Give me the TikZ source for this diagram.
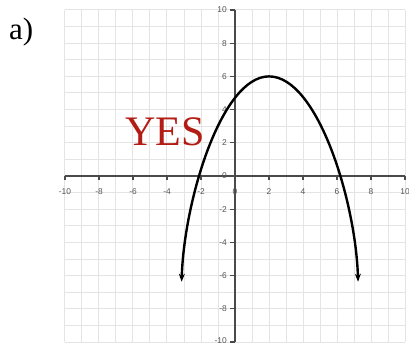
\documentclass[tikz,border=0pt]{standalone}
\usepackage{fontspec}
\setmainfont{Liberation Serif}
\newfontfamily\labfont{Liberation Sans}
\usetikzlibrary{arrows.meta}
\definecolor{gridc}{HTML}{E4E4E4}
\definecolor{axisc}{HTML}{4A4A4A}
\definecolor{labc}{HTML}{555555}
\definecolor{yesred}{RGB}{178,28,20}
\tikzset{
  gridline/.style={gridc, line width=1pt},
  axisline/.style={axisc, line width=1.1pt},
  ticklab/.style={labc, font=\labfont\fontsize{8.4}{10}\selectfont, inner sep=0pt},
  curve/.style={black, line width=2.4pt, {Stealth[length=8pt,width=6pt]}-{Stealth[length=8pt,width=6pt]}}
}
\begin{document}
\begin{tikzpicture}[x=17pt,y=16.6pt]
\useasboundingbox[fill=white] (-235pt,-169pt) rectangle (174pt,176pt);
% grid
\foreach \i in {-10,...,10} {
  \draw[gridline] (\i,-10) -- (\i,10);
  \draw[gridline] (-10,\i) -- (10,\i);
}
% axes
\draw[axisline] (-10,0) -- (10,0);
\draw[axisline, line width=1.5pt] (0,-10) -- (0,10);
% x ticks and labels
\foreach \i in {-10,-8,...,10} {
  \draw[axisline] (\i,0) -- ++(0,-4pt);
  \node[ticklab] (xl\i) at ([yshift=-16pt]\i,0) {\i};
}
% y ticks and labels
\foreach \i in {-8,-6,...,10} {
  \draw[axisline] (0,\i) -- ++(-5pt,0);
  \node[ticklab, anchor=east] (yl\i) at ([xshift=-8pt]0,\i) {\i};
}
\draw[axisline] (0,-10) -- ++(-5pt,0);
\node[ticklab, anchor=east] (ylm10) at ([xshift=-8pt,yshift=1.5pt]0,-10) {-10};
% curve
\coordinate (tipL) at (-3.14,-6.37);
\coordinate (vtx) at (2,6);
\coordinate (tipR) at (7.24,-6.37);
\draw[curve] (tipL) .. controls (-3.0,-1.5) and (-0.8,6) .. (vtx)
  .. controls (4.85,6) and (7.1,-1.5) .. (tipR);
% texts
\node[yesred, font=\fontsize{42}{44}\selectfont, inner sep=0pt] (yes) at (-70pt,44pt) {YES};
\node[black, font=\fontsize{31}{33}\selectfont, inner sep=0pt, anchor=north west] (lbl) at (-226pt,158pt) {a)};
\end{tikzpicture}
\end{document}
